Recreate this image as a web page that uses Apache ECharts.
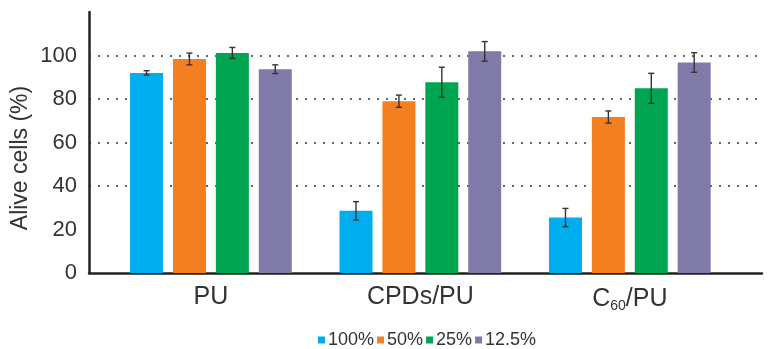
<!DOCTYPE html>
<html>
<head>
<meta charset="utf-8">
<script src="https://cdn.jsdelivr.net/npm/echarts@6/dist/echarts.min.js"></script>
<style>
  html, body { margin: 0; padding: 0; background: #fff; }
  #chart { width: 772px; height: 349px; }
</style>
</head>
<body>
<div id="chart"></div>
<script>
var groups = ['PU', 'CPDs/PU', 'C60/PU'];
var concentrations = ['100%', '50%', '25%', '12.5%'];
// mean values per concentration, one entry per group
var val100 = [92, 28.6, 25.5];
var val50 = [98.4, 79, 71.7];
var val25 = [101.2, 87.7, 84.9];
var val125 = [93.7, 101.9, 96.8];
// error (+/-)
var err100 = [1, 4.2, 4.2];
var err50 = [2.7, 2.8, 2.8];
var err25 = [2.5, 6.9, 6.9];
var err125 = [2, 4.5, 4.5];
var yTicks = [0, 20, 40, 60, 80, 100];

var values = [val100, val50, val25, val125];
var errors = [err100, err50, err25, err125];
var colors = ['#00AEEF', '#F47F20', '#00A551', '#807AA8'];

var chart = echarts.init(document.getElementById('chart'));

var barW = 33;
var gapPct = 0.3;
var step = barW * (1 + gapPct);

var series = [];
concentrations.forEach(function (name, si) {
  series.push({
    name: name,
    type: 'bar',
    barWidth: barW,
    barGap: (gapPct * 100) + '%',
    itemStyle: { color: colors[si] },
    data: values[si].map(function (v, gi) { return [gi, v]; })
  });
});

// error bars
var errData = [];
values.forEach(function (arr, si) {
  arr.forEach(function (v, gi) {
    errData.push([gi, v, errors[si][gi], si]);
  });
});
series.push({
  type: 'custom',
  silent: true,
  z: 10,
  renderItem: function (params, api) {
    var x = api.value(0), y = api.value(1), e = api.value(2), si = api.value(3);
    var off = (si - 1.5) * step;
    var hi = api.coord([x, y + e]);
    var lo = api.coord([x, y - e]);
    var cx = hi[0] + off;
    var cap = 3;
    var st = { stroke: '#333', lineWidth: 1.4 };
    return {
      type: 'group',
      children: [
        { type: 'line', shape: { x1: cx, y1: hi[1], x2: cx, y2: lo[1] }, style: st },
        { type: 'line', shape: { x1: cx - cap, y1: hi[1], x2: cx + cap, y2: hi[1] }, style: st },
        { type: 'line', shape: { x1: cx - cap, y1: lo[1], x2: cx + cap, y2: lo[1] }, style: st }
      ]
    };
  },
  encode: { x: 0, y: 1 },
  data: errData
});

var option = {
  animation: false,
  textStyle: { fontFamily: 'Liberation Sans, Arial, sans-serif' },
  color: colors,
  grid: { left: 89, right: 10, top: 12, bottom: 76 },
  legend: {
    data: concentrations,
    top: 326,
    left: 313,
    itemWidth: 7,
    itemHeight: 7,
    itemGap: 3,
    icon: 'rect',
    textStyle: { fontSize: 18, color: '#333', padding: [0, 0, 0, -2] }
  },
  xAxis: {
    type: 'value',
    min: -0.582,
    max: 2.631,
    splitLine: { show: false },
    axisTick: { show: false },
    axisLine: { show: true, onZero: false, lineStyle: { color: '#222', width: 2.5 } },
    axisLabel: {
      customValues: [0, 1, 2],
      margin: 12,
      fontSize: 25,
      color: '#333',
      formatter: function (v) {
        var n = groups[Math.round(v)];
        if (n === 'C60/PU') return '{m|C}{s|60}{m|/PU}';
        return n;
      },
      rich: {
        m: { fontSize: 25, color: '#333', lineHeight: 28 },
        s: { fontSize: 14, color: '#333', verticalAlign: 'bottom', lineHeight: 12 }
      }
    }
  },
  yAxis: {
    type: 'value',
    min: 0,
    max: 120,
    interval: 20,
    name: 'Alive cells (%)',
    nameLocation: 'middle',
    nameGap: 57,
    nameMoveOverlap: false,
    nameTextStyle: { fontSize: 23, color: '#333', padding: [0, 31, 0, 0] },
    axisLine: { show: true, onZero: false, lineStyle: { color: '#222', width: 2.5 } },
    axisTick: { show: false },
    axisLabel: {
      fontSize: 22,
      color: '#333',
      margin: 12,
      formatter: function (v) { return yTicks.indexOf(v) >= 0 ? String(v) : ''; }
    },
    splitLine: {
      show: true,
      lineStyle: {
        color: ['transparent', 'transparent', '#333', '#333', '#333', '#333', 'transparent'],
        type: [2, 7],
        width: 1.6
      }
    }
  },
  series: series
};

chart.setOption(option);
</script>
</body>
</html>
